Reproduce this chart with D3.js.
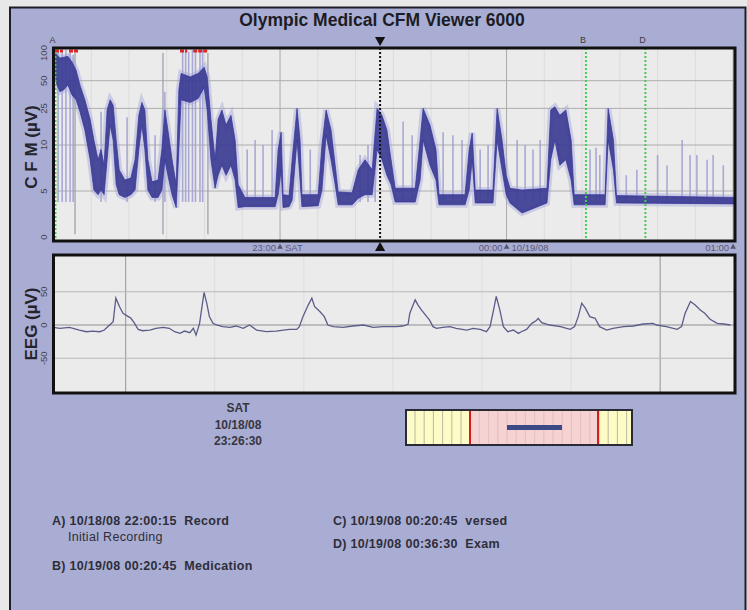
<html>
<head>
<title>Olympic Medical CFM Viewer 6000</title>
<script src="https://d3js.org/d3.v7.min.js" charset="utf-8"></script>
<style>
	body { margin: 0; background: #e8e8e8; }
	text { font-family: "Liberation Sans", Arial, sans-serif; }
</style>
</head>
<body>
<div id="svg"></div>
<script type="text/javascript">
// ---- data ----
// CFM band: [minutes after 22:00, lower margin uV, upper margin uV]
var cfmBand = [
	[0, 70, 108], [0.9, 45, 95], [1.7, 38, 88], [2.8, 40, 90], [3.8, 45, 92],
	[4.9, 35, 80], [6.0, 31, 65], [7.0, 23, 45], [8.3, 14.6, 31], [9.7, 8.4, 19],
	[10.7, 5.1, 11.3], [11.8, 4.6, 8.4], [12.6, 5.1, 9.5], [13.4, 4.6, 7.8], [14.2, 8.4, 24],
	[15.0, 16.5, 31], [15.8, 11.3, 27], [16.6, 5.7, 11.3], [17.4, 4.6, 7.3], [18.9, 4.3, 6.2],
	[20.5, 4.6, 6.4], [21.6, 5.1, 8.4], [22.6, 9.5, 21], [23.4, 16.5, 29], [24.2, 9.5, 24],
	[25.0, 5.1, 8.4], [26.1, 4.3, 6.0], [27.7, 4.3, 6.2], [28.7, 5.1, 9.5], [29.5, 8.4, 24],
	[30.3, 6.7, 14.6], [31.4, 4.6, 8.4], [32.5, 3.2, 5.7], [33.2, 9.5, 40], [33.8, 31, 60],
	[36.2, 29, 55], [38.3, 32, 60], [39.9, 42, 70], [40.7, 24, 55], [41.7, 8.4, 19],
	[42.8, 5.3, 8.4], [43.6, 6.7, 19], [44.6, 7.8, 24], [45.7, 6.7, 16.5], [47.0, 7.8, 21],
	[48.1, 6.2, 11.3], [48.9, 3.2, 5.7], [50.7, 3.3, 4.3], [58.7, 3.3, 4.3], [59.5, 4.6, 9.5],
	[60.3, 7.3, 13.8], [60.8, 3.2, 4.6], [62.4, 3.3, 4.5], [63.2, 4.0, 8.4], [64.5, 11.3, 25],
	[65.3, 6.2, 11.3], [65.8, 3.3, 4.6], [70.1, 3.4, 4.6], [71.1, 5.1, 10], [72.2, 12.8, 24],
	[73.5, 8.4, 14.6], [74.6, 5.7, 7.8], [75.4, 3.5, 4.9], [79.1, 3.5, 4.8], [80.7, 4.2, 7.3],
	[82.5, 4.6, 8.4], [84.4, 4.6, 7.3], [85.7, 9.5, 25], [87.0, 8.4, 21], [88.3, 6.7, 14.6],
	[89.4, 5.7, 8.4], [90.5, 3.8, 5.3], [95.8, 3.8, 5.3], [97.1, 6.2, 11.3], [97.9, 11.3, 25],
	[99.7, 7.8, 16.5], [101.3, 6.2, 9.5], [102.1, 3.5, 4.6], [109.0, 3.5, 4.6], [110.1, 5.1, 9.5],
	[110.9, 8.4, 13.5], [111.7, 3.7, 5.1], [116.4, 3.7, 5.1], [117.5, 11.3, 25], [118.8, 7.3, 11.3],
	[119.9, 4.6, 6.7], [120.9, 3.7, 5.3], [124.1, 2.6, 5.1], [130.7, 3.7, 5.3], [131.7, 8.4, 24],
	[132.8, 11.3, 26], [134.1, 7.8, 21], [135.7, 8.4, 24], [137.1, 6.2, 11.3], [137.9, 3.5, 4.6],
	[146.1, 3.5, 4.6], [146.9, 11.3, 25], [148.3, 7.3, 11.3], [149.1, 3.7, 4.5], [180.5, 3.6, 4.3]
];

// thin light spikes above the band: [minutes after 22:00, peak uV]
var cfmSpikes = [
	[1.2, 108], [2.3, 108], [3.3, 108], [4.4, 104], [5.2, 95],
	[12.6, 23], [19.5, 20], [26.9, 12.8], [29.5, 38],
	[34.2, 108], [35.0, 108], [35.8, 104], [36.8, 108], [37.6, 104], [38.8, 108], [39.5, 108],
	[51.3, 9.5], [53.4, 11.3], [55.5, 10], [57.9, 14.6], [68.0, 9.5], [81.2, 8.9], [83.3, 10],
	[85.2, 11.3], [92.6, 18], [95.0, 12.8], [103.2, 13.8], [105.8, 12.8], [108.2, 11.3],
	[113.0, 9.5], [115.1, 10], [122.8, 11.3], [124.9, 10], [127.0, 9.5], [128.9, 11.3],
	[142.1, 9.5], [143.7, 9.7], [144.7, 8.9], [151.7, 6.7], [154.5, 7.3], [160.0, 8.9],
	[162.5, 7.8], [166.5, 11.3], [168.6, 8.9], [170.4, 8.9], [173.1, 8.4], [174.7, 8.9], [177.4, 7.8]
];

// artifact lines and saturation marks (minutes after 22:00)
var cfmArtifacts = [5.7, 29.0, 40.9];
var cfmSaturation = [[0.4, 2.5], [4.1, 6.5], [33.5, 35.4], [37.0, 40.9]];

var cfmTicks = [0, 5, 10, 25, 50, 100];
var cfmGrid = [5, 10, 25, 50];
var hourTicks = ["10/18/08 23:00", "10/19/08 00:00", "10/19/08 01:00"];
var hourNotes = ["SAT", "10/19/08", ""];

var events = [["A", "10/18/08 22:00:15"], ["B", "10/19/08 00:20:45"], ["D", "10/19/08 00:36:30"]];
var cursorTime = "10/18/08 23:26:30";

// EEG trace: [seconds into window, uV]
var eegTrace = [
	[0, -3.5], [0.7, -5], [1.8, -3.5], [2.9, -7.6], [3.7, -10.1], [4.4, -9.1], [5.2, -10.1],
	[5.7, -7.6], [6.3, 0], [6.7, 5], [7.0, 40.4], [7.4, 27.8], [7.8, 17.7], [8.4, 12.6],
	[8.7, 10.1], [9.1, 2.5], [9.5, -6.6], [10.0, -8.6], [10.8, -7.6], [11.5, -5], [12.3, -3.5],
	[13.0, -5], [13.6, -10.1], [14.2, -12.6], [14.7, -9.1], [15.3, -11.6], [15.7, -5], [16.0, -15.2],
	[16.4, 2.5], [16.9, 49], [17.2, 32.8], [17.5, 12.6], [17.9, 2.5], [18.3, 0], [19.0, -2.5],
	[19.8, -3.5], [20.5, -1.5], [21.3, -5], [22.0, 0], [22.8, -7.6], [23.9, -10.1], [25.0, -9.1],
	[25.8, -7.6], [26.5, -6.6], [27.3, -6.6], [27.6, -2.5], [28.0, 12.6], [28.6, 30.3], [29.0, 40.4],
	[29.3, 27.8], [29.9, 20.2], [30.4, 12.6], [30.8, 0], [31.4, -2.5], [32.5, -3.5], [33.6, -1.5],
	[34.8, 0], [35.9, -3.5], [37.0, -2.5], [38.5, -2.5], [39.2, -1.5], [39.8, 1], [40.0, 17.7],
	[40.6, 37.9], [40.9, 30.3], [41.3, 22.7], [41.9, 12.6], [42.2, 7.6], [42.6, -2.5], [43.0, -5],
	[43.7, -3.5], [44.5, -2.5], [45.2, -5], [46.4, -7.6], [47.1, -5], [47.9, -6.6], [48.6, -10.1],
	[49.0, -2.5], [49.4, 22.7], [49.7, 42.9], [50.1, 22.7], [50.5, -2.5], [51.0, -10.1], [51.6, -7.6],
	[52.2, -12.6], [52.5, -10.1], [53.1, -6.6], [53.7, 2.5], [54.2, 6.6], [54.4, 10.1], [54.8, 3.5],
	[55.7, 0], [56.9, -2.5], [58.0, -6.6], [58.5, -2.5], [58.9, 12.6], [59.3, 32.8], [59.7, 25.3],
	[60.2, 12.6], [60.8, 10.1], [61.3, -2.5], [62.1, -7.6], [62.8, -5], [64.0, -2.5], [65.1, -1.5],
	[66.2, 1.5], [67.3, 2.5], [67.7, 0], [68.8, -2.5], [70.0, -6.6], [70.5, -2.5], [70.9, 17.7],
	[71.5, 35.4], [72.0, 30.3], [72.6, 22.7], [73.1, 17.7], [73.7, 8.6], [74.5, 2.5], [75.2, 1.5],
	[76.0, 0]
];
var eegTicks = [50, 0, -50];
var eegMinuteMarks = [8.1, 68.1];

var cursorLines = ["SAT", "10/18/08", "23:26:30"];
var notesLeft = [["A) 10/18/08 22:00:15  Record", 0], ["Initial Recording", 1], ["B) 10/19/08 00:20:45  Medication", 0]];
var notesRight = ["C) 10/19/08 00:20:45  versed", "D) 10/19/08 00:36:30  Exam"];

// ---- layout ----
var cfm = { "left": 53.5, "right": 735, "top": 48, "bottom": 241 };
var eeg = { "left": 53.5, "right": 735, "top": 255, "bottom": 393 };

var parse = d3.timeParse("%m/%d/%y %H:%M:%S");
var parseHour = d3.timeParse("%m/%d/%y %H:%M");
var start = parse("10/18/08 22:00:00");
function atMinute(m) { return new Date(start.getTime() + m * 60000); }

var x = d3.scaleTime().domain([start, atMinute(180.5)]).range([cfm.left, cfm.right]);
var yLin = d3.scaleLinear().domain([0, 10]).range([237, 145]);
var yLog = d3.scaleLog().domain([10, 100]).range([145, 53]);
function yCfm(v) { return v <= 10 ? yLin(v) : yLog(Math.min(v, 108)); }

var xe = d3.scaleLinear().domain([0, 76.5]).range([eeg.left, eeg.right]);
var ye = d3.scaleLinear().domain([-100, 100]).range([391.5, 258.5]);

var svg = d3.select("#svg").append("svg")
	.attr("width", 747)
	.attr("height", 610);

svg.append("rect")
	.attr("x", 10).attr("y", 7.5).attr("width", 735.5).attr("height", 640)
	.attr("fill", "#aaadd3").attr("stroke", "#1e1e28").attr("stroke-width", 2);

svg.append("text")
	.attr("x", 382).attr("y", 26)
	.attr("text-anchor", "middle")
	.style("font-size", "17.5px").style("font-weight", "bold").style("fill", "#1c1c24")
	.text("Olympic Medical CFM Viewer 6000");

// ---- CFM panel ----
svg.append("rect")
	.attr("x", cfm.left).attr("y", cfm.top)
	.attr("width", cfm.right - cfm.left).attr("height", cfm.bottom - cfm.top)
	.attr("fill", "#ebebeb");

svg.append("clipPath").attr("id", "cfmclip").append("rect")
	.attr("x", cfm.left).attr("y", cfm.top)
	.attr("width", cfm.right - cfm.left).attr("height", cfm.bottom - cfm.top);

var cfmG = svg.append("g").attr("clip-path", "url(#cfmclip)");

// faint 10 minute grid, darker hour lines
cfmG.selectAll(".vgrid")
	.data(x.ticks(d3.timeMinute.every(10)))
	.enter().append("line")
	.attr("x1", function(d) { return x(d); }).attr("x2", function(d) { return x(d); })
	.attr("y1", cfm.top).attr("y2", cfm.bottom)
	.attr("stroke", function(d) { return d.getMinutes() === 0 ? "#a9a9a9" : "#dcdcdc"; })
	.attr("stroke-width", 1);

cfmG.selectAll(".hgrid")
	.data(cfmGrid)
	.enter().append("line")
	.attr("x1", cfm.left).attr("x2", cfm.right)
	.attr("y1", function(d) { return yCfm(d); }).attr("y2", function(d) { return yCfm(d); })
	.attr("stroke", "#aeaeae").attr("stroke-width", 1);

cfmG.selectAll(".artifact")
	.data(cfmArtifacts)
	.enter().append("line")
	.attr("x1", function(d) { return x(atMinute(d)); }).attr("x2", function(d) { return x(atMinute(d)); })
	.attr("y1", yCfm(100)).attr("y2", yCfm(0.3))
	.attr("stroke", "#9a9aa6").attr("stroke-width", 1.2);

cfmG.selectAll(".spike")
	.data(cfmSpikes)
	.enter().append("line")
	.attr("x1", function(d) { return x(atMinute(d[0])); }).attr("x2", function(d) { return x(atMinute(d[0])); })
	.attr("y1", yCfm(3.8)).attr("y2", function(d) { return yCfm(d[1]); })
	.attr("stroke", "#9d9dd2").attr("stroke-width", 1.6).attr("stroke-opacity", 0.85);

var band = d3.area()
	.x(function(d) { return x(atMinute(d[0])); })
	.y0(function(d) { return yCfm(d[1]); })
	.y1(function(d) { return yCfm(d[2]); });

cfmG.append("path")
	.datum(cfmBand)
	.attr("d", band)
	.attr("fill", "#a4a4da").attr("fill-opacity", 0.6)
	.attr("stroke", "#a4a4da").attr("stroke-width", 6).attr("stroke-opacity", 0.45);

cfmG.append("path")
	.datum(cfmBand)
	.attr("d", band)
	.attr("fill", "#2c2c8a").attr("fill-opacity", 0.8)
	.attr("stroke", "#34349a").attr("stroke-width", 1).attr("stroke-opacity", 0.7);

cfmG.selectAll(".sat")
	.data(cfmSaturation)
	.enter().append("line")
	.attr("x1", function(d) { return x(atMinute(d[0])); }).attr("x2", function(d) { return x(atMinute(d[1])); })
	.attr("y1", cfm.top + 3).attr("y2", cfm.top + 3)
	.attr("stroke", "#e02424").attr("stroke-width", 3).attr("stroke-dasharray", "4,1");

// event markers
cfmG.selectAll(".event")
	.data(events)
	.enter().append("line")
	.attr("x1", function(d) { return x(parse(d[1])) + 1; }).attr("x2", function(d) { return x(parse(d[1])) + 1; })
	.attr("y1", cfm.top).attr("y2", cfm.bottom)
	.attr("stroke", "#3fcf4a").attr("stroke-width", 2).attr("stroke-dasharray", "2,2");

svg.selectAll(".eventlabel")
	.data(events)
	.enter().append("text")
	.attr("x", function(d) { return x(parse(d[1])) - 2; }).attr("y", 43)
	.attr("text-anchor", "middle")
	.style("font-size", "9px").style("fill", "#3a3a48")
	.text(function(d) { return d[0]; });

// cursor
var cx = x(parse(cursorTime));
cfmG.append("line")
	.attr("x1", cx).attr("x2", cx).attr("y1", cfm.top).attr("y2", cfm.bottom)
	.attr("stroke", "#111").attr("stroke-width", 2).attr("stroke-dasharray", "2,2");

svg.append("path")
	.attr("d", d3.symbol().type(d3.symbolTriangle).size(45))
	.attr("transform", "translate(" + cx + ",40) rotate(180)")
	.attr("fill", "#111");
svg.append("path")
	.attr("d", d3.symbol().type(d3.symbolTriangle).size(45))
	.attr("transform", "translate(" + cx + ",248)")
	.attr("fill", "#111");

svg.append("rect")
	.attr("x", cfm.left).attr("y", cfm.top)
	.attr("width", cfm.right - cfm.left).attr("height", cfm.bottom - cfm.top)
	.attr("fill", "none").attr("stroke", "#111").attr("stroke-width", 3);

svg.selectAll(".cfmtick")
	.data(cfmTicks)
	.enter().append("text")
	.attr("transform", function(d) { return "translate(47," + yCfm(d) + ") rotate(-90)"; })
	.attr("text-anchor", "middle")
	.style("font-size", "9.5px").style("fill", "#44444f")
	.text(function(d) { return d; });

svg.append("text")
	.attr("transform", "translate(37,147) rotate(-90)")
	.attr("text-anchor", "middle")
	.style("font-size", "17px").style("font-weight", "bold").style("fill", "#24242c")
	.text("C F M (\u00b5V)");

// hour labels under the CFM trace
var hourG = svg.selectAll(".hour")
	.data(hourTicks)
	.enter().append("g")
	.attr("transform", function(d) { return "translate(" + x(parseHour(d)) + ",0)"; });
hourG.append("path")
	.attr("d", d3.symbol().type(d3.symbolTriangle).size(14))
	.attr("transform", "translate(0,247)")
	.attr("fill", "#55556e");
hourG.append("text")
	.attr("x", -4).attr("y", 251)
	.attr("text-anchor", "end")
	.style("font-size", "9.5px").style("fill", "#5a5a74")
	.text(function(d) { return d3.timeFormat("%H:%M")(parseHour(d)); });
hourG.append("text")
	.attr("x", 5).attr("y", 251)
	.style("font-size", "9.5px").style("fill", "#5a5a74")
	.text(function(d, i) { return hourNotes[i]; });

// ---- EEG panel ----
svg.append("rect")
	.attr("x", eeg.left).attr("y", eeg.top)
	.attr("width", eeg.right - eeg.left).attr("height", eeg.bottom - eeg.top)
	.attr("fill", "#ebebeb");

svg.selectAll(".egrid")
	.data(d3.range(eegMinuteMarks[0] - 10, 76.5, 10).filter(function(d) { return d > 0; }))
	.enter().append("line")
	.attr("x1", function(d) { return xe(d); }).attr("x2", function(d) { return xe(d); })
	.attr("y1", eeg.top).attr("y2", eeg.bottom)
	.attr("stroke", "#dedede");

svg.selectAll(".emark")
	.data(eegMinuteMarks)
	.enter().append("line")
	.attr("x1", function(d) { return xe(d); }).attr("x2", function(d) { return xe(d); })
	.attr("y1", eeg.top).attr("y2", eeg.bottom)
	.attr("stroke", "#9a9a9a");

svg.selectAll(".ehgrid")
	.data(eegTicks)
	.enter().append("line")
	.attr("x1", eeg.left).attr("x2", eeg.right)
	.attr("y1", function(d) { return ye(d); }).attr("y2", function(d) { return ye(d); })
	.attr("stroke", function(d) { return d === 0 ? "#8f8f8f" : "#b8b8b8"; });

svg.append("path")
	.datum(eegTrace)
	.attr("d", d3.line().x(function(d) { return xe(d[0]); }).y(function(d) { return ye(d[1]); }))
	.attr("fill", "none").attr("stroke", "#5c5c8a").attr("stroke-width", 1.3);

svg.append("rect")
	.attr("x", eeg.left).attr("y", eeg.top)
	.attr("width", eeg.right - eeg.left).attr("height", eeg.bottom - eeg.top)
	.attr("fill", "none").attr("stroke", "#111").attr("stroke-width", 3);

svg.selectAll(".eegtick")
	.data(eegTicks)
	.enter().append("text")
	.attr("transform", function(d) { return "translate(47," + ye(d) + ") rotate(-90)"; })
	.attr("text-anchor", "middle")
	.style("font-size", "9.5px").style("fill", "#44444f")
	.text(function(d) { return d; });

svg.append("text")
	.attr("transform", "translate(37,324) rotate(-90)")
	.attr("text-anchor", "middle")
	.style("font-size", "17px").style("font-weight", "bold").style("fill", "#24242c")
	.text("EEG (\u00b5V)");

// ---- cursor read-out ----
svg.selectAll(".readout")
	.data(cursorLines)
	.enter().append("text")
	.attr("x", 238).attr("y", function(d, i) { return 412 + i * 16.5; })
	.attr("text-anchor", "middle")
	.style("font-size", "12px").style("font-weight", "bold").style("fill", "#363640")
	.text(function(d) { return d; });

// ---- overview scroll bar ----
var sb = svg.append("g");
sb.append("rect").attr("x", 406).attr("y", 410).attr("width", 226).attr("height", 35).attr("fill", "#fdfbc6");
sb.append("rect").attr("x", 470).attr("y", 410).attr("width", 128).attr("height", 35).attr("fill", "#f6d3d3");
sb.selectAll(".stripe")
	.data(d3.range(415, 632, 9.2))
	.enter().append("line")
	.attr("x1", function(d) { return d; }).attr("x2", function(d) { return d; })
	.attr("y1", 410).attr("y2", 445)
	.attr("stroke", function(d) { return d > 470 && d < 598 ? "#e2b8b8" : "#a8a898"; })
	.attr("stroke-width", 0.8);
sb.selectAll(".edge")
	.data([470, 598])
	.enter().append("line")
	.attr("x1", function(d) { return d; }).attr("x2", function(d) { return d; })
	.attr("y1", 410).attr("y2", 445)
	.attr("stroke", "#d81c1c").attr("stroke-width", 2);
sb.append("rect").attr("x", 507).attr("y", 425).attr("width", 55).attr("height", 5).attr("fill", "#3c4a86");
sb.append("rect").attr("x", 406).attr("y", 410).attr("width", 226).attr("height", 35)
	.attr("fill", "none").attr("stroke", "#2a2a34").attr("stroke-width", 2);

// ---- event notes ----
svg.selectAll(".noteL")
	.data(notesLeft)
	.enter().append("text")
	.attr("x", function(d) { return d[1] ? 68 : 52; })
	.attr("y", function(d, i) { return [525, 541, 570][i]; })
	.style("white-space", "pre")
	.style("font-size", "12.5px").style("letter-spacing", "0.3px")
	.style("font-weight", function(d) { return d[1] ? "normal" : "bold"; })
	.style("fill", "#2e2e3a")
	.text(function(d) { return d[0]; });

svg.selectAll(".noteR")
	.data(notesRight)
	.enter().append("text")
	.attr("x", 333)
	.attr("y", function(d, i) { return 525 + i * 23; })
	.style("white-space", "pre")
	.style("font-size", "12.5px").style("letter-spacing", "0.3px")
	.style("font-weight", "bold").style("fill", "#2e2e3a")
	.text(function(d) { return d; });
</script>
</body>
</html>
